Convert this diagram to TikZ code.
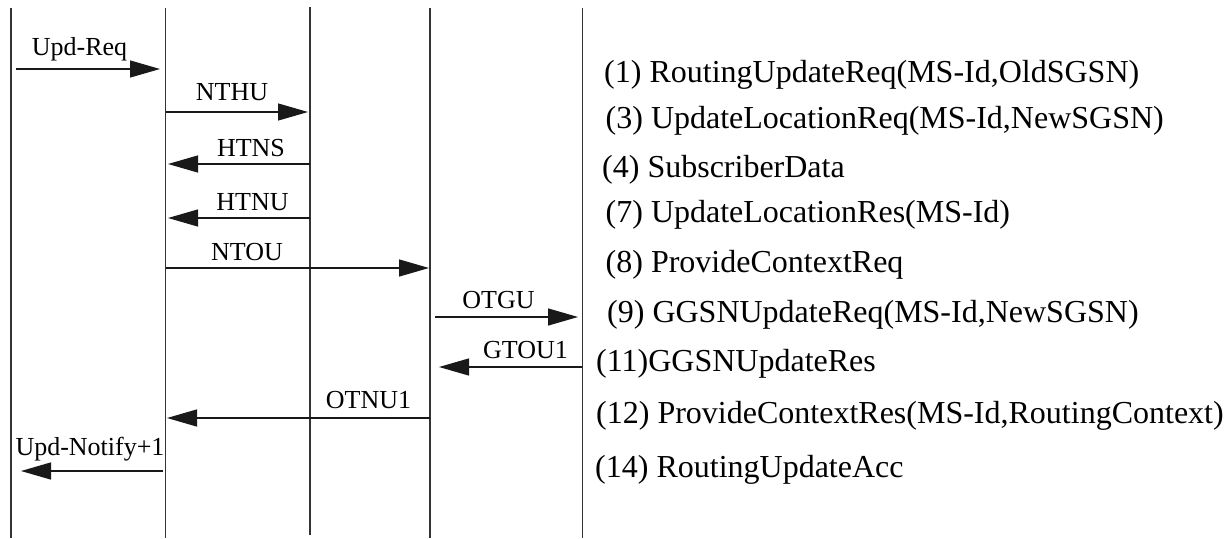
\documentclass[tikz,border=0pt]{standalone}
\usepackage{fontspec}
\setmainfont{Liberation Serif}
\usetikzlibrary{arrows.meta}
\begin{document}
\begin{tikzpicture}[x=1pt,y=-1pt,
  lifeline/.style={line width=1.3pt,draw=black!80},
  msg/.style={line width=1.3pt,draw=black!90,-{Triangle[length=30pt,width=17pt]}},
  msglabel/.style={anchor=base,inner sep=0pt,font=\fontsize{26}{30}\selectfont},
  steptext/.style={anchor=base west,inner sep=0pt,font=\fontsize{32}{36}\selectfont}]
\useasboundingbox (0,0) rectangle (1230,538);
% lifelines
\coordinate (l1t) at (11,8);    \coordinate (l1b) at (11,538);
\coordinate (l2t) at (165.5,8); \coordinate (l2b) at (165.5,538);
\coordinate (l3t) at (310,7);   \coordinate (l3b) at (310,535);
\coordinate (l4t) at (430,8);   \coordinate (l4b) at (430,538);
\coordinate (l5t) at (582.5,8); \coordinate (l5b) at (582.5,538);
\draw[lifeline] (l1t) -- (l1b);
\draw[lifeline] (l2t) -- (l2b);
\draw[lifeline] (l3t) -- (l3b);
\draw[lifeline] (l4t) -- (l4b);
\draw[lifeline] (l5t) -- (l5b);
% message end points
\coordinate (a1s) at (16,69);   \coordinate (a1e) at (160,69);
\coordinate (a2s) at (166,112); \coordinate (a2e) at (308,112);
\coordinate (a3s) at (310,164); \coordinate (a3e) at (168,164);
\coordinate (a4s) at (310,218); \coordinate (a4e) at (168,218);
\coordinate (a5s) at (166,268); \coordinate (a5e) at (429,268);
\coordinate (a6s) at (435,317); \coordinate (a6e) at (578,317);
\coordinate (a7s) at (582,367); \coordinate (a7e) at (439,367);
\coordinate (a8s) at (430,418); \coordinate (a8e) at (167,418);
\coordinate (a9s) at (163,471); \coordinate (a9e) at (21,471);
\draw[msg] (a1s) -- (a1e);
\draw[msg] (a2s) -- (a2e);
\draw[msg] (a3s) -- (a3e);
\draw[msg] (a4s) -- (a4e);
\draw[msg] (a5s) -- (a5e);
\draw[msg] (a6s) -- (a6e);
\draw[msg] (a7s) -- (a7e);
\draw[msg] (a8s) -- (a8e);
\draw[msg] (a9s) -- (a9e);
% message labels
\node[msglabel] (m1) at (79.5,55) {Upd-Req};
\node[msglabel] (m2) at (232,100.5) {NTHU};
\node[msglabel] (m3) at (251,156) {HTNS};
\node[msglabel] (m4) at (252.5,210) {HTNU};
\node[msglabel] (m5) at (247,260.5) {NTOU};
\node[msglabel] (m6) at (498.5,308) {OTGU};
\node[msglabel] (m7) at (525.5,358) {GTOU1};
\node[msglabel] (m8) at (368.5,408) {OTNU1};
\node[msglabel] (m9) at (90,455) {Upd-Notify+1};
% step list
\node[steptext] (s1) at (604,82) {(1) RoutingUpdateReq(MS-Id,OldSGSN)};
\node[steptext] (s3) at (605.5,128) {(3) UpdateLocationReq(MS-Id,NewSGSN)};
\node[steptext] (s4) at (602,177) {(4) SubscriberData};
\node[steptext] (s7) at (605.5,222) {(7) UpdateLocationRes(MS-Id)};
\node[steptext] (s8) at (605.5,272) {(8) ProvideContextReq};
\node[steptext] (s9) at (607,322) {(9) GGSNUpdateReq(MS-Id,NewSGSN)};
\node[steptext] (s11) at (596,371) {(11)GGSNUpdateRes};
\node[steptext] (s12) at (596,423) {(12) ProvideContextRes(MS-Id,RoutingContext)};
\node[steptext] (s14) at (595,477) {(14) RoutingUpdateAcc};
\end{tikzpicture}
\end{document}
